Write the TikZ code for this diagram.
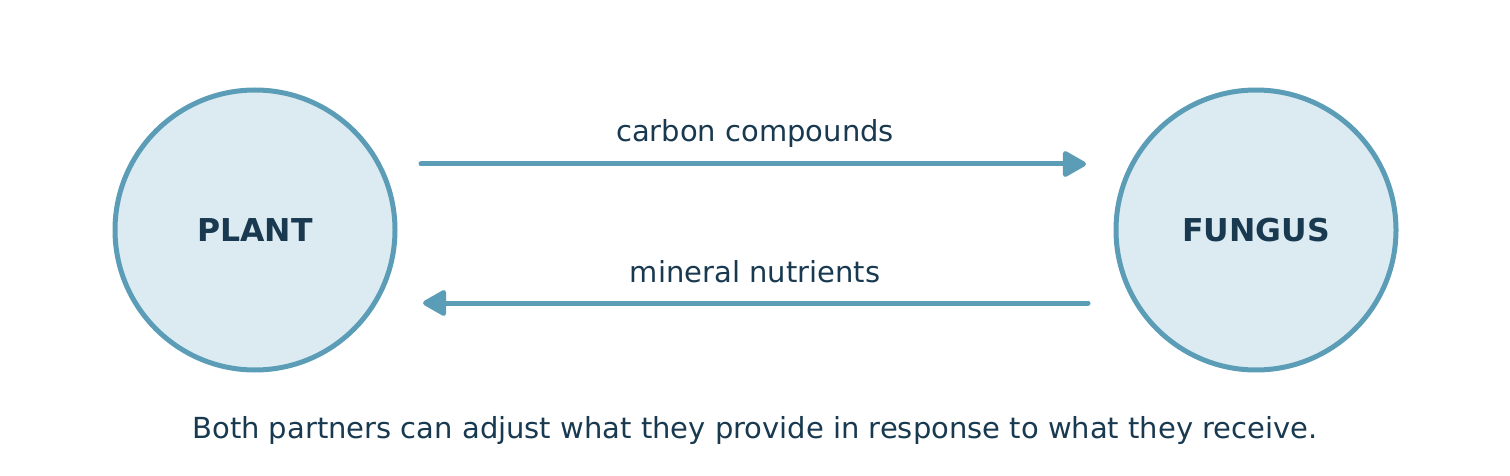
\documentclass[tikz,border=0pt]{standalone}
\usepackage{fontspec}
\setmainfont{DejaVu Sans}
\usetikzlibrary{arrows.meta}
\definecolor{edge}{HTML}{5B9DB6}
\definecolor{fillc}{HTML}{DCEBF1}
\definecolor{ink}{HTML}{18394F}
\begin{document}
\begin{tikzpicture}[x=1pt,y=-1pt,
  partner/.style={circle,draw=edge,fill=fillc,line width=5pt,minimum size=280pt,inner sep=0pt,
    text=ink,font=\bfseries\fontsize{31.5}{36}\selectfont},
  flow/.style={draw=edge,line width=5pt,line cap=round,-{Triangle[length=26pt,width=28pt,round]}},
  lbl/.style={text=ink,font=\fontsize{29}{34}\selectfont}]
\useasboundingbox (0,0) rectangle (1510,476);
\node[partner] (plant) at (255,230) {PLANT};
\node[partner] (fungus) at (1256,230) {FUNGUS};
\coordinate (a1) at (421,164);
\coordinate (a2) at (1086,164);
\coordinate (b1) at (1088,303);
\coordinate (b2) at (423,303);
\draw[flow] (a1) -- (a2);
\draw[flow] (b1) -- (b2);
\node[lbl] (c) at (755,133) {carbon compounds};
\node[lbl] (m) at (755,272) {mineral nutrients};
\node[lbl] (cap) at (755,430) {Both partners can adjust what they provide in response to what they receive.};
\end{tikzpicture}
\end{document}
